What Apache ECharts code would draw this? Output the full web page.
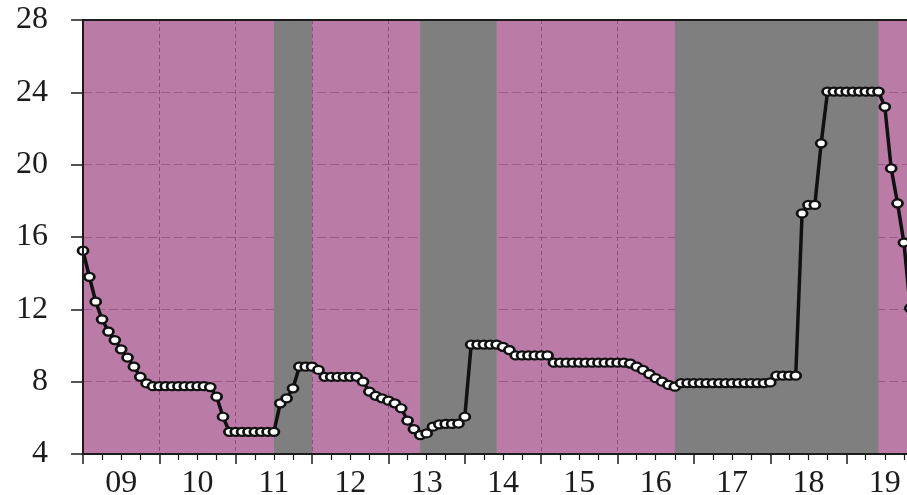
<!DOCTYPE html>
<html>
<head>
<meta charset="utf-8">
<title>Policy rate, 2009–2019</title>
<script src="https://cdn.jsdelivr.net/npm/echarts@6.0.0/dist/echarts.min.js"></script>
<style>
  html, body { margin: 0; padding: 0; background: #ffffff; }
  #chart { width: 907px; height: 495px; }
</style>
</head>
<body>
<div id="chart"></div>
<script>
// Year labels shown under each yearly band
const yearLabels = ['09', '10', '11', '12', '13', '14', '15', '16', '17', '18', '19'];

// Monthly rate (%), one value per month starting January 2009
const rate = [
  15.24, 13.8, 12.42, 11.45, 10.77, 10.3, 9.79, 9.33, 8.83, 8.27, 7.9, 7.75,
  7.75, 7.75, 7.75, 7.75, 7.75, 7.75, 7.75, 7.75, 7.7, 7.17, 6.06, 5.23,
  5.23, 5.23, 5.23, 5.23, 5.23, 5.23, 5.23, 6.8, 7.08, 7.63, 8.83, 8.83,
  8.83, 8.65, 8.27, 8.27, 8.27, 8.27, 8.27, 8.27, 8.0, 7.45, 7.22, 7.08,
  6.95, 6.8, 6.53, 5.85, 5.38, 5.05, 5.14, 5.51, 5.64, 5.66, 5.66, 5.68,
  6.06, 10.05, 10.05, 10.05, 10.05, 10.05, 9.93, 9.75, 9.45, 9.45, 9.45, 9.45,
  9.45, 9.45, 9.05, 9.05, 9.05, 9.05, 9.05, 9.05, 9.05, 9.05, 9.05, 9.05,
  9.05, 9.05, 9.0, 8.83, 8.65, 8.42, 8.19, 8.0, 7.82, 7.72, 7.92, 7.92,
  7.92, 7.92, 7.92, 7.92, 7.92, 7.92, 7.92, 7.92, 7.92, 7.92, 7.92, 7.92,
  7.96, 8.33, 8.33, 8.33, 8.33, 17.3, 17.77, 17.77, 21.18, 24.04, 24.04, 24.04,
  24.04, 24.04, 24.04, 24.04, 24.04, 24.04, 23.2, 19.8, 17.86, 15.69, 12.06
];

// Shaded periods, as [first month, last month] indices from January 2009
const greyBands = [[30, 36], [53, 65], [93, 125]];

const MONTHS = yearLabels.length * 12;
const ink = '#1c1c1c';
const serif = '"Liberation Serif", "Times New Roman", serif';

const chart = echarts.init(document.getElementById('chart'), null, { renderer: 'canvas' });

chart.setOption({
  animation: false,
  backgroundColor: '#ffffff',
  grid: {
    left: 83, top: 20, right: -16, bottom: 41,
    containLabel: false,
    outerBoundsMode: 'none',
    show: true, backgroundColor: '#ba7ca6', borderWidth: 0
  },
  xAxis: [
    { // vertical dashed year lines
      type: 'value', min: 0, max: MONTHS, interval: 12, position: 'bottom',
      axisLine: { show: false }, axisTick: { show: false }, axisLabel: { show: false },
      splitLine: { show: true, lineStyle: { color: '#8e4f7f', width: 1, type: [4, 3] } }
    },
    { // bottom axis line with yearly and quarterly ticks
      type: 'value', min: 0, max: MONTHS, interval: 12, position: 'bottom', z: 5,
      axisLine: { show: true, lineStyle: { color: ink, width: 2 } },
      axisTick: { show: true, inside: false, length: 10, lineStyle: { color: ink, width: 1.5 } },
      minorTick: { show: true, splitNumber: 4, length: 6, lineStyle: { color: ink, width: 1.2 } },
      axisLabel: { show: false },
      splitLine: { show: false }
    },
    { // year names centred in each year
      type: 'category', data: yearLabels, boundaryGap: true, position: 'bottom',
      axisLine: { show: false }, axisTick: { show: false }, splitLine: { show: false },
      axisLabel: { interval: 0, margin: 14, color: ink, fontFamily: serif, fontSize: 32 }
    },
    { // top frame line
      type: 'value', min: 0, max: MONTHS, position: 'top', z: 5,
      axisLine: { show: true, lineStyle: { color: ink, width: 2 } },
      axisTick: { show: false }, axisLabel: { show: false }, splitLine: { show: false }
    }
  ],
  yAxis: [
    { // horizontal dashed lines
      type: 'value', min: 4, max: 28, interval: 4, position: 'left',
      axisLine: { show: false }, axisTick: { show: false }, axisLabel: { show: false },
      splitLine: { show: true, lineStyle: { color: '#9a5a8b', width: 1, type: [9, 4] } }
    },
    { // left axis with labels
      type: 'value', min: 4, max: 28, interval: 4, position: 'left', z: 5,
      axisLine: { show: true, lineStyle: { color: ink, width: 2 } },
      axisTick: { show: true, inside: false, length: 12, lineStyle: { color: ink, width: 1.5 } },
      axisLabel: { margin: 35, color: ink, fontFamily: serif, fontSize: 32, padding: [8, 0, 0, 0] },
      splitLine: { show: false }
    }
  ],
  series: [{
    type: 'line',
    xAxisIndex: 0,
    yAxisIndex: 0,
    data: rate.map((v, i) => [i, v]),
    symbol: 'circle',
    symbolSize: [10, 8],
    showSymbol: true,
    itemStyle: { color: '#ffffff', borderColor: '#111111', borderWidth: 2.5 },
    lineStyle: { color: '#111111', width: 3.5 },
    z: 3,
    markArea: {
      silent: true,
      z: 1,
      itemStyle: { color: '#7f7f7f', opacity: 1, borderWidth: 0 },
      data: greyBands.map(([a, b]) => [{ xAxis: a }, { xAxis: b }])
    }
  }]
});
</script>
</body>
</html>
